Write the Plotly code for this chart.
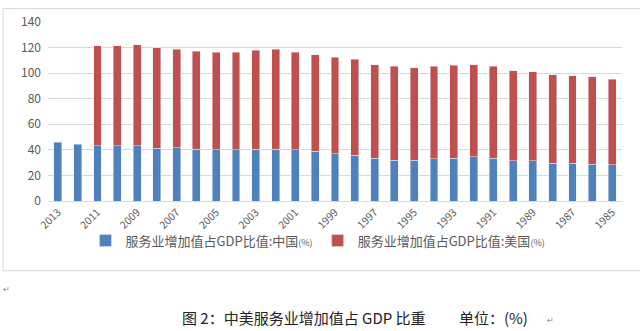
import plotly.graph_objects as go

years = [str(y) for y in range(2013, 1984, -1)]
china = [46, 44.5, 43.1, 43.1, 43.3, 41.2, 41.6, 40.6, 40.1, 40.1, 40.6, 40.6, 40.1, 39.1,
         37.1, 35.8, 33.6, 32.0, 32.0, 33.0, 33.6, 34.6, 33.6, 31.3, 31.5, 29.5, 29.5, 28.8, 28.5]
total = [None, None, 121.3, 121.3, 122.3, 119.8, 118.8, 117.3, 116.5, 116.5, 118.1, 118.8, 116.5, 114.5,
         112.5, 111.0, 106.7, 105.2, 104.4, 105.2, 106.0, 106.7, 105.2, 101.7, 100.9, 98.6, 98.1, 97.1, 95.1]
usa = [None if t is None else round(t - c, 1) for t, c in zip(total, china)]
tick_years = years[::2]
yticks = [0, 20, 40, 60, 80, 100, 120, 140]

name_cn = "服务业增加值占GDP比值:中国<span style='font-size:9px'>(%)</span>"
name_us = "服务业增加值占GDP比值:美国<span style='font-size:9px'>(%)</span>"

fig = go.Figure()
fig.add_trace(go.Bar(x=years, y=china, name=name_cn, marker_color="#4F81BD"))
fig.add_trace(go.Bar(x=years, y=usa, name=name_us, marker_color="#C0504D"))

W0, W1, T, B = 48, 622, 16, 201
def px(x):
    return (x - W0) / (W1 - W0)
def py(y):
    return (B - y) / (B - T)

fig.update_layout(
    width=640, height=331,
    margin=dict(l=W0, r=640 - W1, t=T, b=331 - B, pad=0),
    barmode="stack", bargap=0.6,
    paper_bgcolor="white", plot_bgcolor="white",
    font=dict(family="Noto Sans CJK SC, Noto Sans, sans-serif", color="#595959"),
    showlegend=True,
    legend=dict(orientation="h", x=px(318), xanchor="center", y=py(242), yanchor="middle",
                font=dict(size=13, color="#595959"), itemwidth=30, traceorder="normal",
                bgcolor="rgba(0,0,0,0)"),
    xaxis=dict(type="category", tickvals=tick_years, ticktext=tick_years, tickangle=-45,
               tickfont=dict(size=10.5, color="#595959"), showgrid=False, ticks="",
               showline=True, linecolor="#d9d9d9", linewidth=1),
    yaxis=dict(range=[0, 140], tickvals=yticks, tickfont=dict(size=12, color="#595959"),
               showgrid=True, gridcolor="#d9d9d9", gridwidth=1, zeroline=False,
               showline=False, ticks="", ticklabelstandoff=6),
    shapes=[dict(type="rect", xref="paper", yref="paper",
                 x0=px(3), x1=px(642), y0=py(273), y1=py(2),
                 line=dict(color="#d9d9d9", width=1), fillcolor="rgba(0,0,0,0)", layer="below")],
    annotations=[
        dict(text="图 2：中美服务业增加值占 GDP 比重　　 单位：(%)", xref="paper", yref="paper",
             x=px(355), y=py(321), xanchor="center", yanchor="middle", showarrow=False,
             font=dict(size=15, color="#222222", family="Noto Sans CJK SC")),
        dict(text="↵", xref="paper", yref="paper", x=px(6), y=py(291), xanchor="center",
             yanchor="middle", showarrow=False, font=dict(size=8, color="#888888")),
        dict(text="↵", xref="paper", yref="paper", x=px(550), y=py(323), xanchor="center",
             yanchor="middle", showarrow=False, font=dict(size=8, color="#888888")),
    ],
)

fig.write_html("out.html")
